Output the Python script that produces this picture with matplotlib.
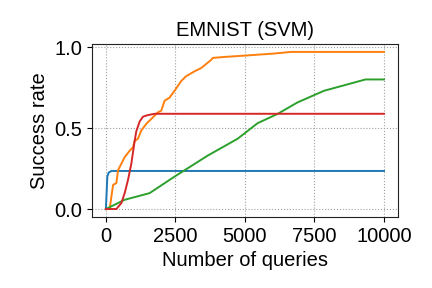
import matplotlib
matplotlib.use("Agg")
import matplotlib.pyplot as plt

plt.rcParams['font.family'] = ['Liberation Sans', 'DejaVu Sans']

blue_x = [0, 50, 100, 200, 10000]
blue_y = [0.0, 0.20, 0.225, 0.235, 0.235]

orange_x = [0, 136, 200, 258, 376, 437, 556, 674, 853, 973, 1033, 1153, 1272, 1452,
            1631, 1870, 1990, 2108, 2288, 2467, 2706, 2885, 3183, 3422, 3781, 3842,
            4258, 4975, 6050, 6649, 10000]
orange_y = [0.0, 0.0, 0.08, 0.149, 0.16, 0.24, 0.28, 0.32, 0.36, 0.38, 0.42, 0.434,
            0.485, 0.526, 0.556, 0.597, 0.607, 0.668, 0.688, 0.73, 0.79, 0.82, 0.85,
            0.87, 0.92, 0.933, 0.939, 0.947, 0.96, 0.97, 0.97]

green_x = [0, 674, 1570, 2467, 3663, 4738, 5455, 6171, 6888, 7843, 9337, 10000]
green_y = [0.0, 0.057, 0.098, 0.20, 0.33, 0.434, 0.53, 0.587, 0.658, 0.73, 0.80, 0.80]

red_x = [0, 376, 556, 674, 795, 914, 1033, 1093, 1212, 1332, 1510, 1750, 10000]
red_y = [0.0, 0.0, 0.037, 0.098, 0.18, 0.28, 0.42, 0.48, 0.54, 0.57, 0.58, 0.588, 0.588]

xticks = [0, 2500, 5000, 7500, 10000]
yticks = [0.0, 0.5, 1.0]

fig = plt.figure(figsize=(4.32, 2.88), dpi=100)
ax = fig.add_axes([0.213, 0.247, 0.708, 0.6])

ax.plot(blue_x, blue_y, color='#1f77b4', lw=1.4)
ax.plot(orange_x, orange_y, color='#ff7f0e', lw=1.4)
ax.plot(green_x, green_y, color='#2ca02c', lw=1.4)
ax.plot(red_x, red_y, color='#d62728', lw=1.4)

ax.set_xticks(xticks)
ax.set_yticks(yticks)
ax.tick_params(labelsize=14.5)
ax.grid(True, linestyle=':', color='#a0a0a0', lw=0.8)
ax.set_title('EMNIST (SVM)', fontsize=14.5)
ax.set_xlabel('Number of queries', fontsize=14.5)
ax.set_ylabel('Success rate', fontsize=14.5)
for s in ax.spines.values():
    s.set_color('#222222')

fig.savefig('out.png', dpi=100)
